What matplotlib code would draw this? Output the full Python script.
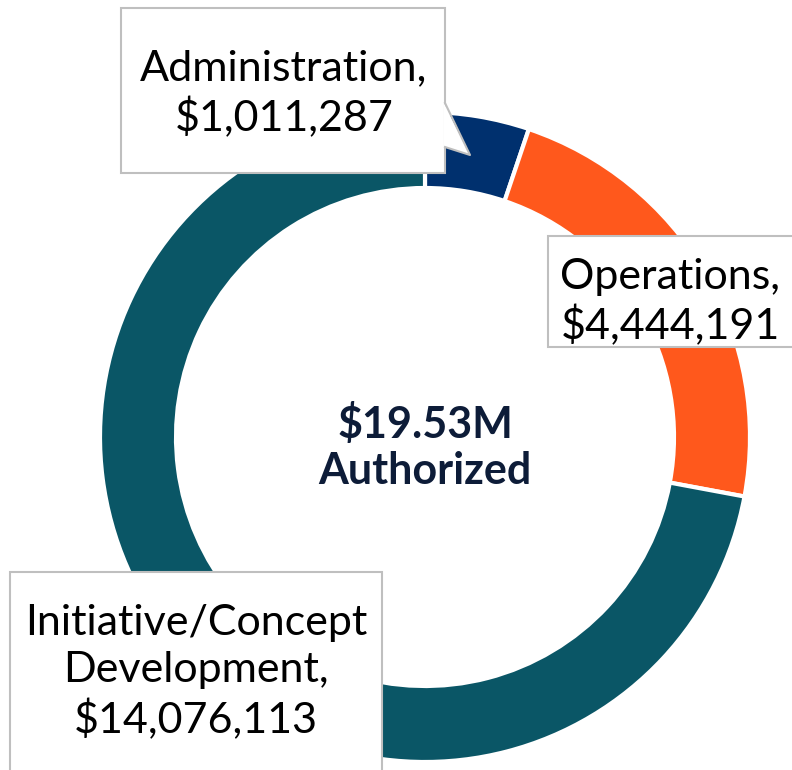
import matplotlib.pyplot as plt
from matplotlib.patches import Rectangle, Polygon

# budget categories (clockwise from 12 o'clock)
categories = ["Administration", "Operations", "Initiative/Concept\nDevelopment"]
amounts = [1011287, 4444191, 14076113]
colors = ["#00306E", "#FF581C", "#0A5666"]
center_label = "$19.53M\nAuthorized"

H = 770
fig = plt.figure(figsize=(7.92, 7.70), dpi=100)
ax = fig.add_axes([0, 0, 1, 1])

ax.pie(amounts, colors=colors, startangle=90, counterclock=False,
       radius=325, center=(425, H - 437),
       wedgeprops=dict(width=76, edgecolor="white", linewidth=3))
ax.set_xlim(0, 792)
ax.set_ylim(0, H)
ax.set_aspect("equal")
ax.axis("off")

ax.text(425, H - 447, center_label, ha="center", va="center", fontsize=31,
        fontweight="bold", color="#0D1C38", family="Lato", linespacing=1.2)

# callout boxes: (x0, top, x1, bottom) in image pixels, and text centre
boxes = [
    ((121, 8, 445, 173), (284, 94)),
    ((548, 236, 800, 347), (670, 302)),
    ((10, 572, 382, 790), (196, 672)),
]

for i, ((x0, y0, x1, y1), (tx, ty)) in enumerate(boxes):
    ax.add_patch(Rectangle((x0, H - y1), x1 - x0, y1 - y0, facecolor="white",
                           edgecolor="#BFBFBF", linewidth=1.5, zorder=3))
    label = f"{categories[i]},\n${amounts[i]:,}"
    ax.text(tx, H - ty, label, ha="center", va="center", fontsize=31,
            family="Lato", color="black", linespacing=1.28, zorder=5)

# pointer of the Administration callout
ax.add_patch(Polygon([(444, H - 103), (470, H - 155), (444, H - 147)],
                     closed=True, facecolor="white", edgecolor="none", zorder=4))
ax.plot([445, 470, 445], [H - 103, H - 155, H - 147], color="#BFBFBF",
        linewidth=1.5, zorder=4)

fig.savefig("out.png", dpi=100)
